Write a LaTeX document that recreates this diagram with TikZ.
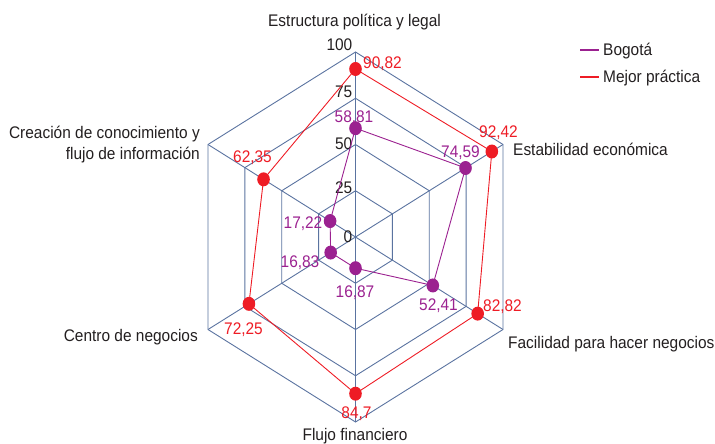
\documentclass[tikz,border=0pt]{standalone}
\usepackage{fontspec}
\setmainfont[FakeStretch=0.92]{Liberation Sans}
\usetikzlibrary{calc}
\definecolor{gridc}{HTML}{5A73A0}
\definecolor{redc}{HTML}{EE1C25}
\definecolor{purc}{HTML}{9B2190}
\definecolor{txtc}{HTML}{231F20}
\begin{document}
\begin{tikzpicture}[x=1pt,y=-1pt,
  font=\fontsize{16.8}{20}\selectfont,
  gridline/.style={draw=gridc,line width=0.9pt},
  redline/.style={draw=redc,line width=0.9pt},
  purline/.style={draw=purc,line width=0.9pt},
  legline/.style={line width=1.5pt},
  reddot/.style={fill=redc},
  purdot/.style={fill=purc},
  redlab/.style={text=redc,anchor=base,inner sep=0pt},
  purlab/.style={text=purc,anchor=base,inner sep=0pt},
  ticklab/.style={text=txtc,anchor=base east,inner sep=0pt},
  axlab/.style={text=txtc,inner sep=0pt}]
\useasboundingbox (0,0) rectangle (715,444);
% axes
\coordinate (O) at (355.5,237);
\coordinate (A1) at (355.5,52);
\coordinate (A2) at (503,144.5);
\coordinate (A3) at (503,329.5);
\coordinate (A4) at (355.5,422);
\coordinate (A5) at (208,329.5);
\coordinate (A6) at (208,144.5);
% grid rings
\foreach \f in {0.25,0.5,0.75,1}{
  \draw[gridline] ($(O)!\f!(A1)$) -- ($(O)!\f!(A2)$) -- ($(O)!\f!(A3)$) -- ($(O)!\f!(A4)$) -- ($(O)!\f!(A5)$) -- ($(O)!\f!(A6)$) -- cycle;
}
\foreach \i in {1,...,6}{\draw[gridline] (O) -- (A\i);}
% tick labels
\node[ticklab] (t100) at (352.5,51) {100};
\node[ticklab] (t75) at (352.5,98) {75};
\node[ticklab] (t50) at (352.5,149) {50};
\node[ticklab] (t25) at (352.5,193) {25};
\node[ticklab] (t0) at (352.5,242.5) {0};
% data: Mejor practica
\coordinate (R1) at ($(O)!0.9082!(A1)$);
\coordinate (R2) at ($(O)!0.9242!(A2)$);
\coordinate (R3) at ($(O)!0.8282!(A3)$);
\coordinate (R4) at ($(O)!0.847!(A4)$);
\coordinate (R5) at ($(O)!0.7225!(A5)$);
\coordinate (R6) at ($(O)!0.6235!(A6)$);
% data: Bogota
\coordinate (P1) at ($(O)!0.5881!(A1)$);
\coordinate (P2) at ($(O)!0.7459!(A2)$);
\coordinate (P3) at ($(O)!0.5241!(A3)$);
\coordinate (P4) at ($(O)!0.1687!(A4)$);
\coordinate (P5) at ($(O)!0.1683!(A5)$);
\coordinate (P6) at ($(O)!0.1722!(A6)$);
\draw[redline] (R1) -- (R2) -- (R3) -- (R4) -- (R5) -- (R6) -- cycle;
\draw[purline] (P1) -- (P2) -- (P3) -- (P4) -- (P5) -- (P6) -- cycle;
\foreach \i in {1,...,6}{
  \fill[reddot] (R\i) ellipse [x radius=6.3pt, y radius=7pt];
  \fill[purdot] (P\i) ellipse [x radius=6.3pt, y radius=7pt];
}
% value labels
\node[redlab] (lR1) at (382.5,69) {90,82};
\node[redlab] (lR2) at (498.5,137) {92,42};
\node[redlab] (lR3) at (502.5,311) {82,82};
\node[redlab] (lR4) at (356.5,418) {84,7};
\node[redlab] (lR5) at (243.5,334) {72,25};
\node[redlab] (lR6) at (252.5,162) {62,35};
\node[purlab] (lP1) at (354,122) {58,81};
\node[purlab] (lP2) at (460.5,157) {74,59};
\node[purlab] (lP3) at (438.5,310) {52,41};
\node[purlab] (lP4) at (355,297) {16,87};
\node[purlab] (lP5) at (300,267) {16,83};
\node[purlab] (lP6) at (303,228) {17,22};
% axis labels
\node[axlab,anchor=base] (ax1) at (354.5,27) {Estructura política y legal};
\node[axlab,anchor=base west] (ax2) at (513,155) {Estabilidad económica};
\node[axlab,anchor=base west] (ax3) at (508,348) {Facilidad para hacer negocios};
\node[axlab,anchor=base] (ax4) at (355,440) {Flujo financiero};
\node[axlab,anchor=base east] (ax5) at (198,341) {Centro de negocios};
\node[axlab,anchor=base east] (ax6a) at (200,138) {Creación de conocimiento y};
\node[axlab,anchor=base east] (ax6b) at (200,159) {flujo de información};
% legend
\coordinate (L1a) at (580,50);
\coordinate (L1b) at (599,50);
\coordinate (L2a) at (580,77);
\coordinate (L2b) at (599,77);
\draw[legline,draw=purc] (L1a) -- (L1b);
\draw[legline,draw=redc] (L2a) -- (L2b);
\node[axlab,anchor=base west] (leg1) at (603,56) {Bogotá};
\node[axlab,anchor=base west] (leg2) at (603,83) {Mejor práctica};
\end{tikzpicture}
\end{document}
